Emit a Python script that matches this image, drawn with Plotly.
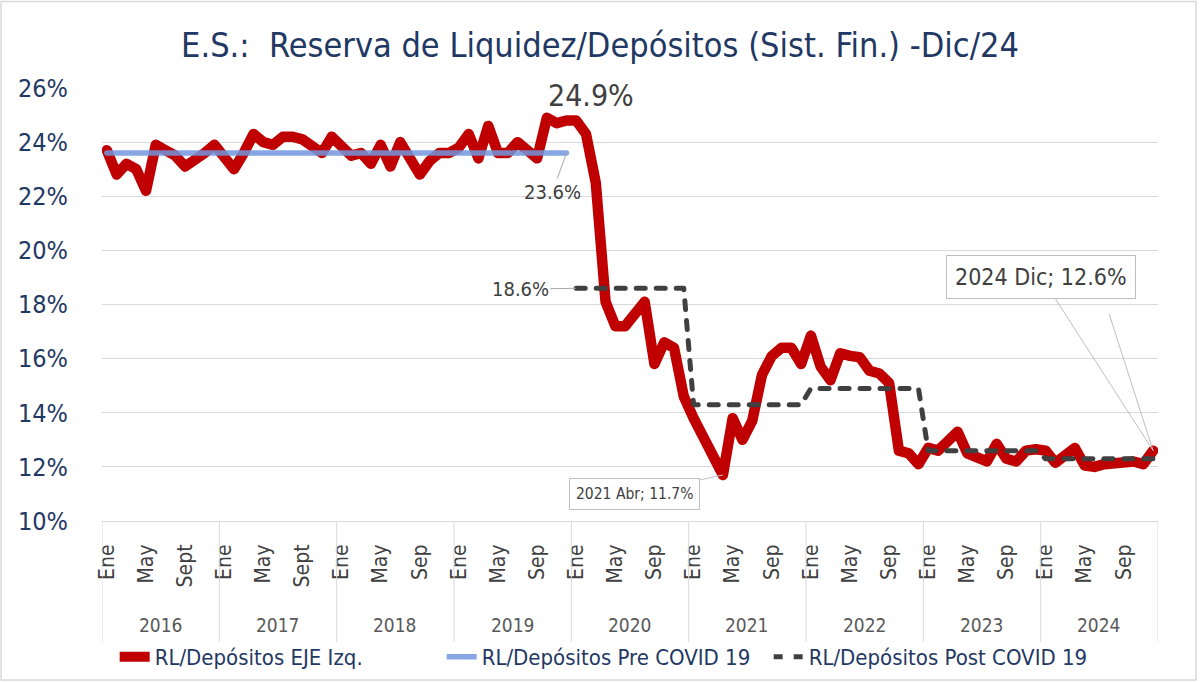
import plotly.graph_objects as go

# ---------------- data ----------------
years = [2016, 2017, 2018, 2019, 2020, 2021, 2022, 2023, 2024]
months = ["Ene", "Feb", "Mar", "Abr", "May", "Jun", "Jul", "Ago", "Sep", "Oct", "Nov", "Dic"]

rl_2016 = [23.7, 22.8, 23.2, 23.0, 22.2, 23.9, 23.7, 23.5, 23.1, 23.3, 23.6, 23.9]
rl_2017 = [23.4, 23.0, 23.6, 24.3, 24.0, 23.9, 24.2, 24.2, 24.1, 23.8, 23.6, 24.2]
rl_2018 = [23.8, 23.5, 23.6, 23.2, 23.9, 23.1, 24.0, 23.4, 22.8, 23.3, 23.6, 23.6]
rl_2019 = [23.8, 24.3, 23.4, 24.6, 23.6, 23.6, 24.0, 23.7, 23.4, 24.9, 24.7, 24.8]
rl_2020 = [24.8, 24.3, 22.5, 18.1, 17.2, 17.2, 17.7, 18.1, 15.8, 16.6, 16.4, 14.6]
rl_2021 = [13.8, 13.1, 12.6, 11.7, 13.8, 13.0, 13.7, 15.4, 16.1, 16.4, 16.4, 15.8]
rl_2022 = [16.85, 15.7, 15.2, 16.2, 16.1, 16.05, 15.55, 15.45, 15.1, 12.6, 12.5, 12.1]
rl_2023 = [12.7, 12.6, 12.95, 13.3, 12.5, 12.35, 12.2, 12.85, 12.3, 12.2, 12.6, 12.65]
rl_2024 = [12.6, 12.15, 12.4, 12.7, 12.05, 12.0, 12.1, 12.15, 12.2, 12.2, 12.1, 12.6]

pre_covid_years = [2016, 2017, 2018, 2019]
pre_covid_avg = 23.6
post_covid_years = [2020, 2021, 2022, 2023, 2024]
post_covid_avg = [18.6, 14.3, 14.9, 12.6, 12.3]

tick_months = ["Ene", "May", "Sep"]
tick_labels = ["Ene", "May", "Sept", "Ene", "May", "Sept",
               "Ene", "May", "Sep", "Ene", "May", "Sep", "Ene", "May", "Sep",
               "Ene", "May", "Sep", "Ene", "May", "Sep", "Ene", "May", "Sep",
               "Ene", "May", "Sep"]

# ---------------- build series ----------------
rl = rl_2016 + rl_2017 + rl_2018 + rl_2019 + rl_2020 + rl_2021 + rl_2022 + rl_2023 + rl_2024
cat_year = [y for y in years for _ in months]
cat_month = [m for _ in years for m in months]
idx = list(range(len(rl)))

pre = [pre_covid_avg if y in pre_covid_years else None for y in cat_year]
post_map = dict(zip(post_covid_years, post_covid_avg))
post = [post_map.get(y) for y in cat_year]

tickvals = [i for i in idx if cat_month[i] in tick_months]

FONT = "Liberation Sans Narrow, DejaVu Sans Condensed, Arial Narrow, Roboto, sans-serif"
NAVY = "#1F3864"
GRAY = "#404040"

fig = go.Figure()
fig.add_trace(go.Scatter(x=idx, y=rl, mode="lines", name="RL/Depósitos EJE Izq.",
                         line=dict(color="#C00000", width=10.5)))
fig.add_trace(go.Scatter(x=idx, y=pre, mode="lines", name="RL/Depósitos Pre COVID 19",
                         line=dict(color="rgba(114,150,222,0.85)", width=5.5)))
fig.add_trace(go.Scatter(x=idx, y=post, mode="lines", name="RL/Depósitos Post COVID 19",
                         line=dict(color="#404040", width=5, dash="9px,11px")))

# year separators and labels
shapes = []
annotations = []
for k, y in enumerate(years):
    b = k * len(months) - 0.5
    shapes.append(dict(type="line", xref="x", yref="paper", x0=b, x1=b, y0=0, y1=-0.279,
                       line=dict(color="#D9D9D9", width=1)))
    annotations.append(dict(x=k * len(months) + (len(months) - 1) / 2, y=-0.24, xref="x", yref="paper",
                            text=str(y), showarrow=False, yanchor="middle",
                            font=dict(family=FONT, size=19, color="#595959")))
end_b = len(years) * len(months) - 0.5
shapes.append(dict(type="line", xref="x", yref="paper", x0=end_b, x1=end_b, y0=0, y1=-0.279,
                   line=dict(color="#D9D9D9", width=1)))
# chart border
shapes.append(dict(type="rect", xref="paper", yref="paper", x0=-0.0956, x1=1.036, y0=-0.367, y1=1.2,
                   line=dict(color="#D9D9D9", width=1.5), layer="below"))

# data labels
i_max = rl.index(max(rl))
annotations.append(dict(x=i_max, y=rl[i_max], text=f"{rl[i_max]:.1f}%", showarrow=False,
                        xshift=44, yshift=22, font=dict(family=FONT, size=30, color=GRAY)))
i_pre_end = max(i for i in idx if pre[i] is not None)
annotations.append(dict(x=i_pre_end, y=pre_covid_avg, text=f"{pre_covid_avg:.1f}%", showarrow=True,
                        arrowhead=0, arrowwidth=1, arrowcolor="#A6A6A6", ax=-14, ay=39,
                        font=dict(family=FONT, size=20, color=GRAY)))
i_post_start = min(i for i in idx if post[i] is not None)
annotations.append(dict(x=i_post_start, y=post_covid_avg[0], text=f"{post_covid_avg[0]:.1f}%", showarrow=True,
                        arrowhead=0, arrowwidth=1, arrowcolor="#A6A6A6", ax=-56, ay=1,
                        font=dict(family=FONT, size=20, color=GRAY)))
i_min = rl.index(min(rl))
annotations.append(dict(x=i_min, y=rl[i_min], text=f"{cat_year[i_min]} {cat_month[i_min]}; {rl[i_min]:.1f}%",
                        showarrow=True, arrowhead=0, arrowwidth=1, arrowcolor="#BFBFBF", ax=-88, ay=19,
                        bordercolor="#BFBFBF", borderwidth=1, borderpad=6, bgcolor="white",
                        font=dict(family=FONT, size=15.5, color=GRAY)))
i_last = len(rl) - 1
annotations.append(dict(x=i_last, y=rl[i_last], text=" ", showarrow=True, arrowhead=0, arrowwidth=1,
                        arrowcolor="#BFBFBF", ax=-47, ay=-146))
annotations.append(dict(x=i_last, y=rl[i_last], text=f"{cat_year[i_last]} {cat_month[i_last]}; {rl[i_last]:.1f}%",
                        showarrow=True, arrowhead=0, arrowwidth=1, arrowcolor="#BFBFBF", ax=-112, ay=-174,
                        bordercolor="#BFBFBF", borderwidth=1, borderpad=8, bgcolor="white",
                        font=dict(family=FONT, size=23, color=GRAY)))

fig.update_layout(
    width=1200, height=682,
    margin=dict(l=102, r=42, t=88, b=161, autoexpand=False),
    paper_bgcolor="white", plot_bgcolor="white",
    title=dict(text="E.S.:  Reserva de Liquidez/Depósitos (Sist. Fin.) -Dic/24",
               x=0.5, xref="container", xanchor="center", y=1 - 45 / 682, yref="container", yanchor="middle",
               font=dict(family=FONT, size=34, color=NAVY)),
    xaxis=dict(range=[-0.5, len(rl) - 0.5], tickvals=tickvals, ticktext=tick_labels, tickangle=-90,
               showgrid=False, zeroline=False, showline=True, linecolor="#D9D9D9", ticks="",
               automargin=False,
               ticklabelstandoff=14, tickfont=dict(family=FONT, size=21, color=GRAY)),
    yaxis=dict(range=[10, 26], dtick=2, ticksuffix="%", showgrid=True, gridcolor="#D9D9D9", gridwidth=1,
               zeroline=False, showline=False, ticks="", ticklabelstandoff=33, automargin=False,
               tickfont=dict(family=FONT, size=25, color=NAVY)),
    legend=dict(orientation="h", x=0.012, xanchor="left", y=-0.314, yanchor="middle",
                entrywidth=282, entrywidthmode="pixels",
                font=dict(family=FONT, size=22, color=NAVY), bgcolor="rgba(0,0,0,0)"),
    shapes=shapes, annotations=annotations,
    showlegend=True,
)

post_js = """
document.querySelectorAll('.scatterlayer path.js-line').forEach(function(p){
  p.style.strokeLinejoin='round'; p.style.strokeLinecap='round';
});
"""
fig.write_html("out.html", post_script=post_js)
